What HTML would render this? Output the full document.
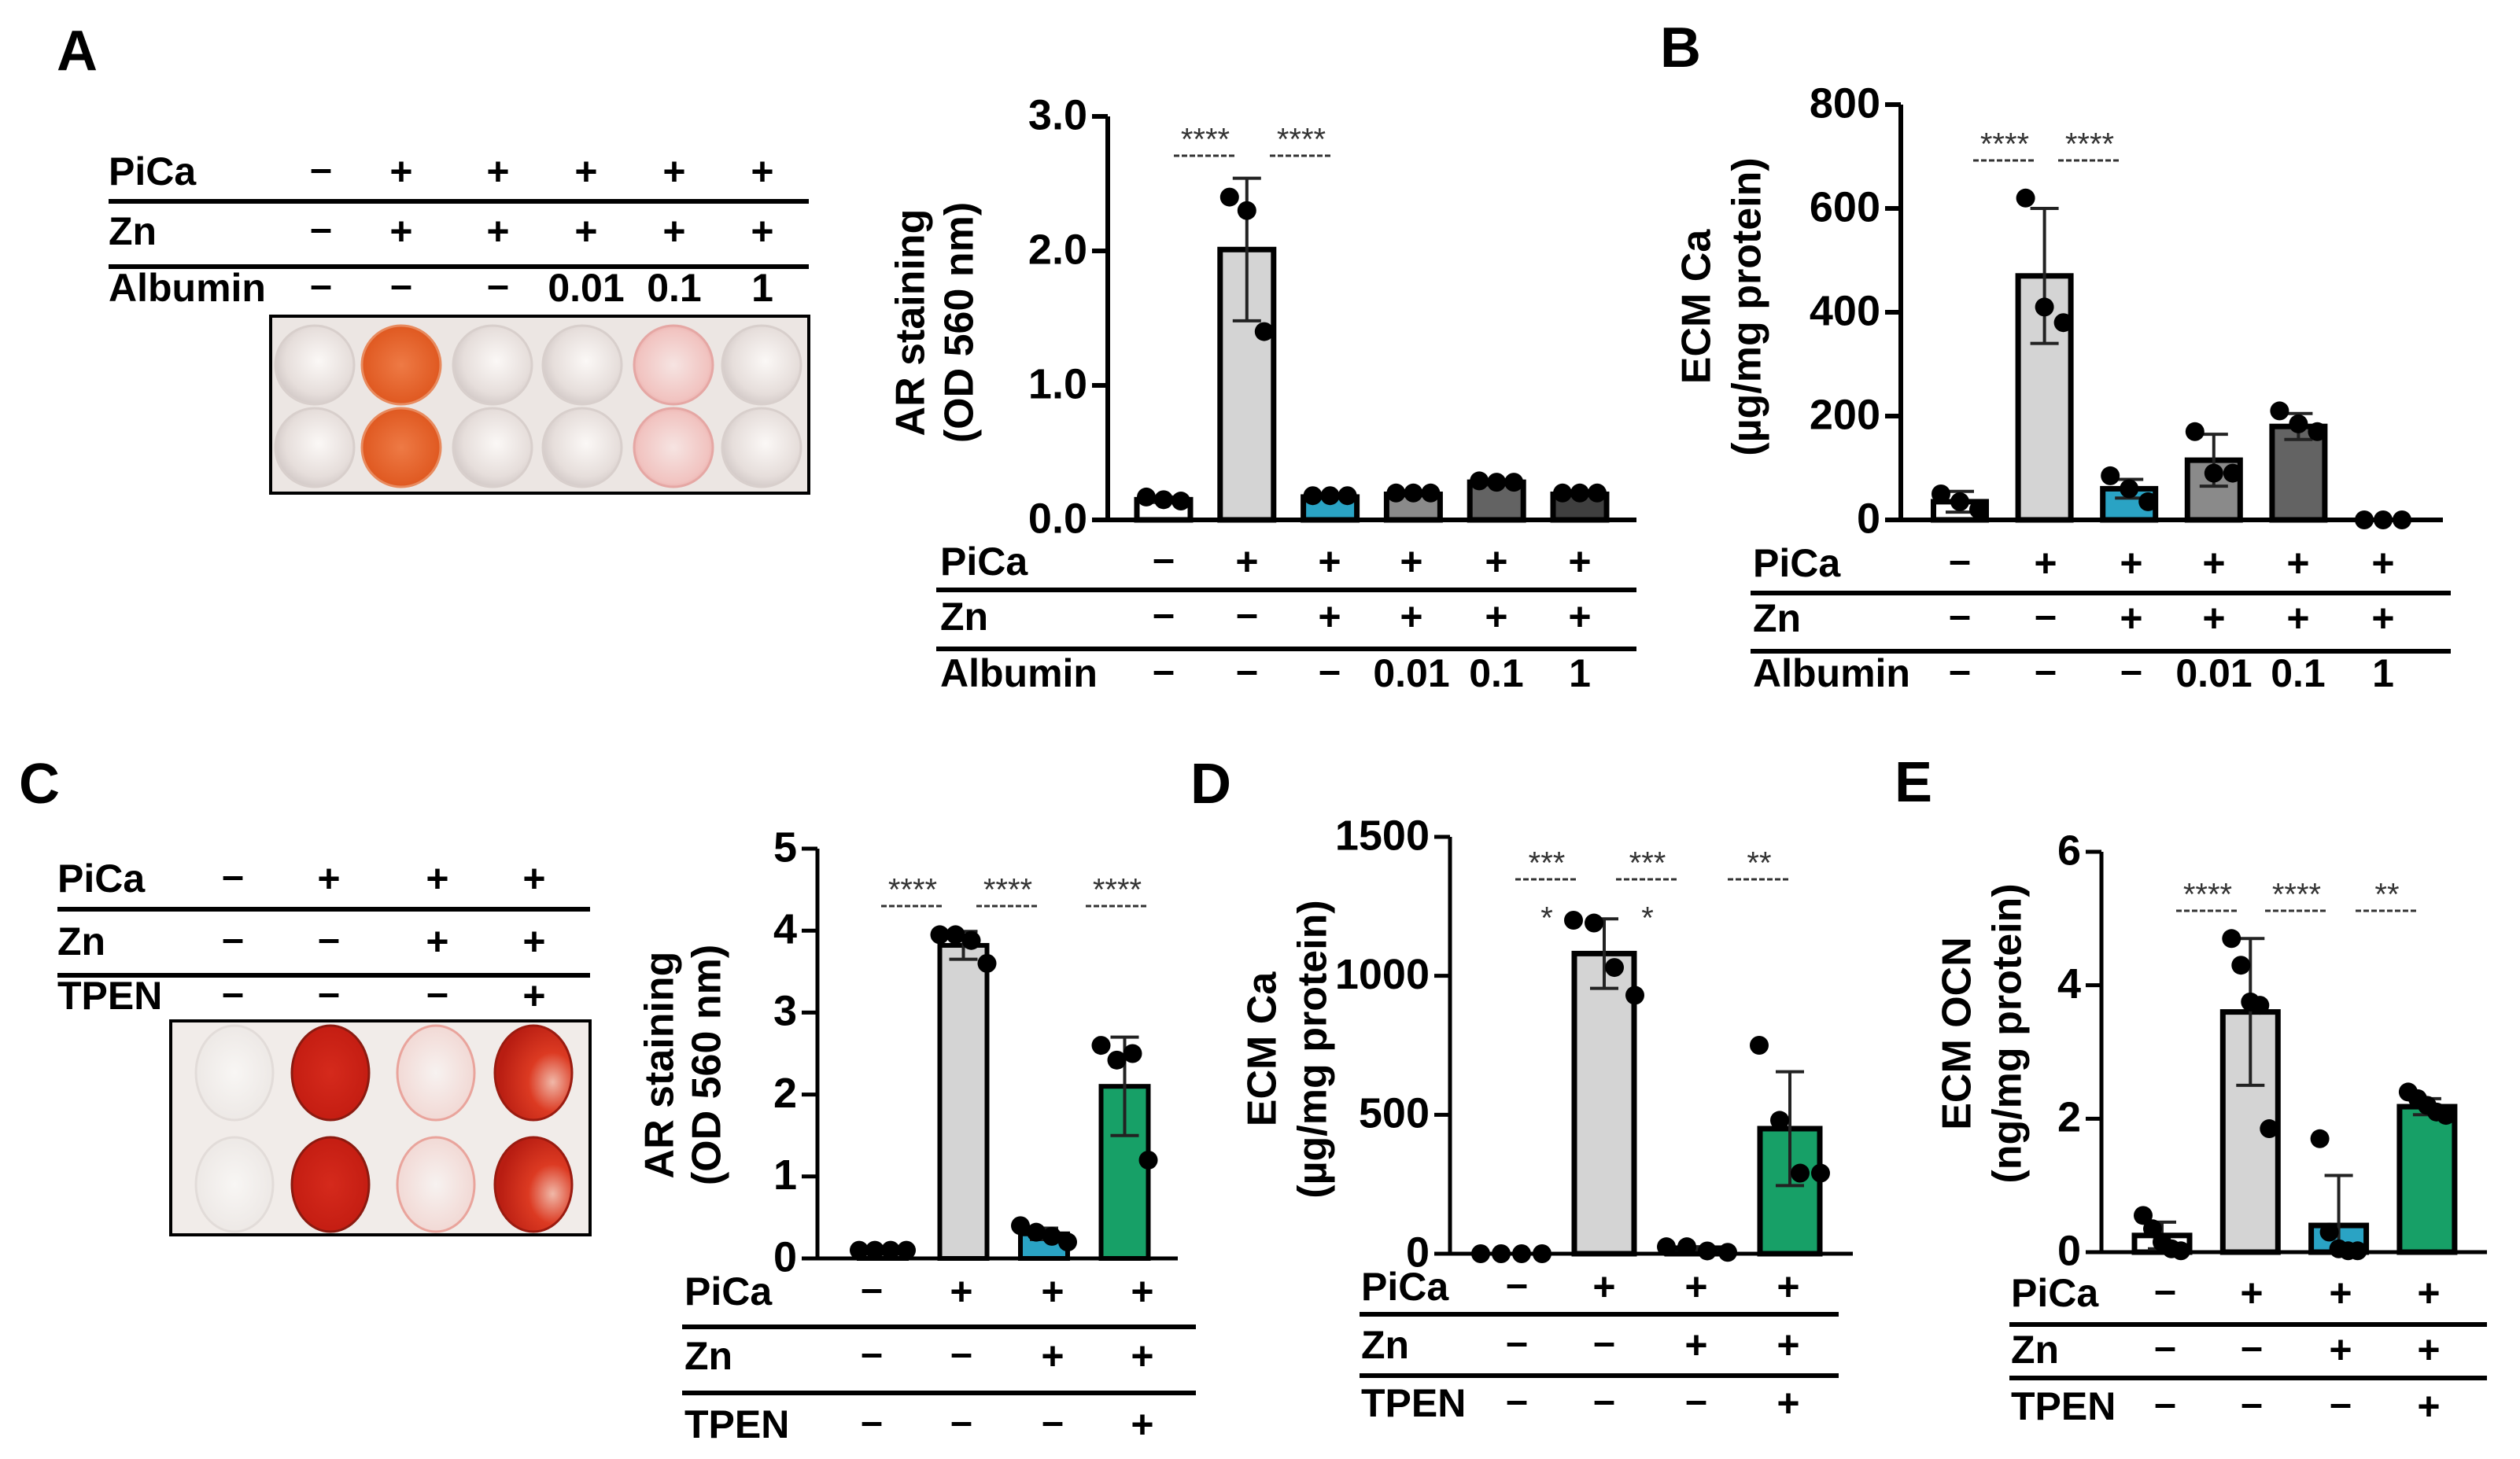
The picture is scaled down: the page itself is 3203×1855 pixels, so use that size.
<!DOCTYPE html>
<html><head><meta charset="utf-8">
<style>
html,body{margin:0;padding:0;background:#fff;}
svg{display:block;}
text{font-family:"Liberation Sans Narrow","Liberation Sans",Arial,sans-serif;}
.lbl{font-weight:bold;font-size:50px;fill:#000;}
.tick{font-weight:bold;font-size:54px;fill:#000;}
.ytitle{font-family:"Liberation Sans",Arial,sans-serif;font-size:52px;font-weight:bold;fill:#000;}
.panel{font-family:"Liberation Sans",Arial,sans-serif;font-weight:bold;font-size:72px;fill:#000;}
.sig{font-family:"Liberation Sans",Arial,sans-serif;font-size:40px;fill:#333;}
</style></head>
<body>
<svg id="fig" width="3203" height="1855" viewBox="0 0 3203 1855" xmlns="http://www.w3.org/2000/svg">
<defs>
<radialGradient id="wellPale" cx="0.55" cy="0.45" r="0.6"><stop offset="0" stop-color="#fbf8f6"/><stop offset="0.7" stop-color="#e6dedb"/><stop offset="1" stop-color="#cfc6c4"/></radialGradient>
<radialGradient id="wellOrange" cx="0.5" cy="0.5" r="0.6"><stop offset="0" stop-color="#ee7a45"/><stop offset="0.8" stop-color="#e05a22"/><stop offset="1" stop-color="#c8451a"/></radialGradient>
<radialGradient id="wellPink" cx="0.5" cy="0.5" r="0.6"><stop offset="0" stop-color="#f6e4e2"/><stop offset="0.75" stop-color="#f1c3c0"/><stop offset="1" stop-color="#e69a98"/></radialGradient>
<radialGradient id="wellRed" cx="0.5" cy="0.5" r="0.6"><stop offset="0" stop-color="#d52a1c"/><stop offset="0.85" stop-color="#c41d12"/><stop offset="1" stop-color="#9e1a10"/></radialGradient>
<radialGradient id="wellRed2" cx="0.75" cy="0.6" r="0.7"><stop offset="0" stop-color="#f0b8a8"/><stop offset="0.45" stop-color="#dc3a22"/><stop offset="1" stop-color="#b81d12"/></radialGradient>
<radialGradient id="wellFaint" cx="0.5" cy="0.5" r="0.6"><stop offset="0" stop-color="#f7f2f0"/><stop offset="0.8" stop-color="#f2dad6"/><stop offset="1" stop-color="#eaa59c"/></radialGradient>
<radialGradient id="wellWhite" cx="0.5" cy="0.5" r="0.6"><stop offset="0" stop-color="#f8f6f4"/><stop offset="1" stop-color="#ebe6e3"/></radialGradient>
</defs>
</svg>
<script>
// ---------- Panel A data ----------
var aCats = ["c1","c2","c3","c4","c5","c6"];
var aMeans = [0.15, 2.01, 0.17, 0.19, 0.28, 0.19];
var aSD = [0.02, 0.53, 0.01, 0.01, 0.02, 0.01];
var aDots = [[0.17,0.15,0.14],[2.4,2.3,1.4],[0.18,0.18,0.18],[0.2,0.2,0.2],[0.29,0.28,0.28],[0.2,0.2,0.2]];
var aTicks = [0, 1, 2, 3];
var aTickLabels = ["0.0","1.0","2.0","3.0"];
// ---------- Panel B data ----------
var bMeans = [35, 470, 60, 115, 180, 0];
var bSD = [20, 130, 18, 50, 25, 0];
var bDots = [[50,35,20],[620,410,380],[85,60,35],[170,90,90],[210,185,170],[0,0,0]];
var bTicks = [0,200,400,600,800];
var bTickLabels = ["0","200","400","600","800"];
// ---------- Panel C data ----------
var cMeans = [0.1, 3.82, 0.3, 2.1];
var cSD = [0.01, 0.17, 0.07, 0.6];
var cDots = [[0.1,0.1,0.1,0.1],[3.95,3.95,3.88,3.6],[0.4,0.32,0.27,0.2],[2.6,2.42,2.5,1.2]];
var cTicks = [0,1,2,3,4,5];
var cTickLabels = ["0","1","2","3","4","5"];
// ---------- Panel D data ----------
var dMeans = [0, 1080, 20, 450];
var dSD = [0, 125, 5, 205];
var dDots = [[0,0,0,0],[1200,1190,1030,930],[25,25,10,5],[750,480,290,290]];
var dTicks = [0,500,1000,1500];
var dTickLabels = ["0","500","1000","1500"];
// ---------- Panel E data ----------
var eMeans = [0.25, 3.6, 0.4, 2.18];
var eSD = [0.2, 1.1, 0.75, 0.12];
var eDots = [[0.55,0.35,0.15,0.05,0.02],[4.7,4.3,3.75,3.7,1.85],[1.7,0.3,0.05,0.02,0.02],[2.4,2.3,2.2,2.1,2.05]];
var eTicks = [0,2,4,6];
var eTickLabels = ["0","2","4","6"];

var NS = "http://www.w3.org/2000/svg";
var svg = document.getElementById("fig");
function mk(tag, attrs, parent){
  var e = document.createElementNS(NS, tag);
  for (var k in attrs) e.setAttribute(k, attrs[k]);
  (parent||svg).appendChild(e);
  return e;
}
function txt(s, x, y, cls, anchor, parent){
  var t = mk("text", {x:x, y:y, "class":cls, "text-anchor":anchor||"start", "dominant-baseline":"middle"}, parent);
  t.textContent = s;
  return t;
}

function drawChart(p){
  var g = mk("g", {});
  
  
  function y(v){ return p.y0 - v / p.max * (p.y0 - p.yTop); }
  for (var i=0;i<p.means.length;i++){
    var cx = p.x0 + p.step*i;
    var top = y(p.means[i]);
    var h = Math.max(p.y0 - top, 0);
    if (h > 0.5){
      var r = mk("rect", {x:cx-p.bw/2, y:top, width:p.bw, height:h, fill:p.colors[i], stroke:"#000", "stroke-width":p.bs}, g);
      
      
    }
    var sd = p.sd[i];
    if (sd > 0){
      var hi = y(p.means[i]+sd), lo = y(Math.max(p.means[i]-sd,0));
      var eg = mk("g", {stroke:"#222","stroke-width":4}, g);
      
      
      mk("line",{x1:cx,y1:hi,x2:cx,y2:lo},eg);
      mk("line",{x1:cx-18,y1:hi,x2:cx+18,y2:hi},eg);
      mk("line",{x1:cx-18,y1:lo,x2:cx+18,y2:lo},eg);
    }
    var d = p.dots[i], n = d.length;
    for (var j=0;j<n;j++){
      var off = (j-(n-1)/2) * p.spread;
      var c = mk("circle",{cx:cx+off, cy:y(d[j]), r:12, fill:"#000"}, g);
      
      
    }
  }
  var ax = mk("g",{stroke:"#000","stroke-width":p.aw}, g);
  
  
  mk("line",{x1:p.ax,y1:p.yTop,x2:p.ax,y2:p.y0+p.aw/2},ax);
  mk("line",{x1:p.ax-p.aw/2,y1:p.y0,x2:p.xEnd,y2:p.y0},ax);
  for (var k=0;k<p.ticks.length;k++){
    var ty = y(p.ticks[k]);
    mk("line",{x1:p.ax-20,y1:ty,x2:p.ax,y2:ty},ax);
    var tl = txt(p.tickLabels[k], p.ax-26, ty+2, "tick", "end", g);
    
    
  }
  var tg = mk("g",{transform:"translate("+p.tx+","+p.ty+") rotate(-90)"}, g);
  var t1 = txt(p.title1, 0, -p.tgap, "ytitle", "middle", tg);
  
  
  var t2 = txt(p.title2, 0, p.tgap, "ytitle", "middle", tg);
  
  
  for (var s=0;s<p.sig.length;s++){
    var sg = p.sig[s];
    var st = txt(sg[1], sg[0], p.sigY, "sig", "middle", g);
    
    
    if (sg[2]) mk("line",{x1:sg[0]-40,y1:p.sigY+18,x2:sg[0]+40,y2:p.sigY+18,stroke:"#333","stroke-width":3,"stroke-dasharray":"7,3"}, g);
  }
  return g;
}

function drawTable(t){
  var g = mk("g", {});
  
  
  for (var r=0;r<t.rows.length;r++){
    var row = t.rows[r];
    var lab = txt(row[0], t.lx, t.ys[r], "lbl", "start", g);
    
    
    for (var c=0;c<row[1].length;c++){
      var v = row[1][c];
      var e = txt(v, t.cols[c], t.ys[r] + (v==="–"? -4:0), "lbl", "middle", g);
      
      
    }
  }
  for (var l=0;l<t.lines.length;l++){
    mk("line",{x1:t.lx0,y1:t.lines[l],x2:t.lx1,y2:t.lines[l],stroke:"#000","stroke-width":6}, g);
  }
}

function drawPlate(pl){
  var g = mk("g", {});
  
  
  mk("rect",{x:pl.x,y:pl.y,width:pl.w,height:pl.h,fill:pl.bg,stroke:"#000","stroke-width":4}, g);
  for (var r=0;r<pl.rows.length;r++){
    for (var c=0;c<pl.cols.length;c++){
      var w = mk("ellipse",{cx:pl.cols[c],cy:pl.rows[r],rx:pl.rx,ry:pl.ry,fill:"url(#"+pl.fills[c]+")",stroke:pl.strokes[c],"stroke-width":3}, g);
      
      
    }
  }
}

function panelLetter(s,x,y){
  var t = txt(s,x,y,"panel","start");
  
  
}

var M = "–", P = "+";
panelLetter("A",72,70); panelLetter("B",2110,66); panelLetter("C",24,1002); panelLetter("D",1513,1002); panelLetter("E",2408,1000);

drawTable({name:"table-a-plate", lx:138, lx0:138, lx1:1028, cols:[408,510,633,745,857,969],
  ys:[222,298,370], lines:[256,339],
  rows:[["PiCa",[M,P,P,P,P,P]],["Zn",[M,P,P,P,P,P]],["Albumin",[M,M,M,"0.01","0.1","1"]]]});
drawPlate({name:"plate-a", x:344,y:402,w:684,h:225,bg:"#ece6e3", rows:[464,569], cols:[400,510,626,740,856,968], rx:50, ry:50,
  fills:["wellPale","wellOrange","wellPale","wellPale","wellPink","wellPale"],
  strokes:["#d8cfcc","#e88a5e","#d8cfcc","#d8cfcc","#e5a7a4","#d8cfcc"]});

drawChart({name:"chart-a-ar-staining", means:aMeans, sd:aSD, dots:aDots, ticks:aTicks, tickLabels:aTickLabels,
  max:3, y0:661, yTop:148, ax:1408, xEnd:2080, x0:1479, step:105.8, bw:68, bs:7, aw:6, spread:22,
  colors:["#ffffff","#d4d4d4","#2aa3c4","#8a8a8a","#636363","#3f3f3f"],
  tx:1192, ty:410, tgap:31, title1:"AR staining", title2:"(OD 560 nm)",
  sigY:180, sig:[[1532,"****",1],[1654,"****",1]]});
drawTable({name:"table-a-chart", lx:1195, lx0:1190, lx1:2080, cols:[1479,1585,1690,1794,1902,2008],
  ys:[718,788,860], lines:[750,825],
  rows:[["PiCa",[M,P,P,P,P,P]],["Zn",[M,M,P,P,P,P]],["Albumin",[M,M,M,"0.01","0.1","1"]]]});

drawChart({name:"chart-b-ecm-ca", means:bMeans, sd:bSD, dots:bDots, ticks:bTicks, tickLabels:bTickLabels,
  max:800, y0:661, yTop:133, ax:2416, xEnd:3105, x0:2491, step:107.6, bw:67, bs:7, aw:6, spread:24,
  colors:["#ffffff","#d4d4d4","#2aa3c4","#8a8a8a","#636363","#3f3f3f"],
  tx:2192, ty:390, tgap:32, title1:"ECM Ca", title2:"(µg/mg protein)",
  sigY:186, sig:[[2548,"****",1],[2656,"****",1]]});
drawTable({name:"table-b", lx:2228, lx0:2225, lx1:3115, cols:[2491,2600,2709,2814,2921,3029],
  ys:[720,790,860], lines:[754,828],
  rows:[["PiCa",[M,P,P,P,P,P]],["Zn",[M,M,P,P,P,P]],["Albumin",[M,M,M,"0.01","0.1","1"]]]});

drawTable({name:"table-c-plate", lx:73, lx0:73, lx1:750, cols:[296,418,556,679],
  ys:[1121,1201,1270], lines:[1156,1240],
  rows:[["PiCa",[M,P,P,P]],["Zn",[M,M,P,P]],["TPEN",[M,M,M,P]]]});
drawPlate({name:"plate-c", x:217,y:1298,w:533,h:272,bg:"#f1ece9", rows:[1364,1506], cols:[298,420,554,678], rx:49, ry:60,
  fills:["wellWhite","wellRed","wellFaint","wellRed2"],
  strokes:["#e2dcd9","#8c1a10","#e9a49c","#9a1b10"]});

drawChart({name:"chart-c-ar-staining", means:cMeans, sd:cSD, dots:cDots, ticks:cTicks, tickLabels:cTickLabels,
  max:5, y0:1600, yTop:1079, ax:1039, xEnd:1497, x0:1122, step:102.5, bw:60, bs:6, aw:5, spread:20,
  colors:["#ffffff","#d4d4d4","#2aa3c4","#17a067"],
  tx:872, ty:1354, tgap:30, title1:"AR staining", title2:"(OD 560 nm)",
  sigY:1134, sig:[[1160,"****",1],[1281,"****",1],[1420,"****",1]]});
drawTable({name:"table-c-chart", lx:870, lx0:867, lx1:1520, cols:[1108,1222,1338,1452],
  ys:[1646,1728,1815], lines:[1687,1771],
  rows:[["PiCa",[M,P,P,P]],["Zn",[M,M,P,P]],["TPEN",[M,M,M,P]]]});

drawChart({name:"chart-d-ecm-ca", means:dMeans, sd:dSD, dots:dDots, ticks:dTicks, tickLabels:dTickLabels,
  max:1500, y0:1594, yTop:1064, ax:1843, xEnd:2355, x0:1921, step:118, bw:76, bs:7, aw:5, spread:26,
  colors:["#ffffff","#d4d4d4","#2aa3c4","#17a067"],
  tx:1640, ty:1334, tgap:32, title1:"ECM Ca", title2:"(µg/mg protein)",
  sigY:1100, sig:[[1966,"***",1],[2094,"***",1],[2236,"**",1]]});
var s1 = txt("*",1966,1170,"sig","middle");


var s2 = txt("*",2094,1170,"sig","middle");


drawTable({name:"table-d", lx:1730, lx0:1728, lx1:2337, cols:[1928,2039,2156,2273],
  ys:[1640,1714,1788], lines:[1671,1749],
  rows:[["PiCa",[M,P,P,P]],["Zn",[M,M,P,P]],["TPEN",[M,M,M,P]]]});

drawChart({name:"chart-e-ecm-ocn", means:eMeans, sd:eSD, dots:eDots, ticks:eTicks, tickLabels:eTickLabels,
  max:6, y0:1592, yTop:1083, ax:2671, xEnd:3161, x0:2748, step:112.3, bw:70, bs:7, aw:5, spread:12,
  colors:["#ffffff","#d4d4d4","#2aa3c4","#17a067"],
  tx:2523, ty:1314, tgap:32, title1:"ECM OCN", title2:"(ng/mg protein)",
  sigY:1140, sig:[[2806,"****",1],[2919,"****",1],[3034,"**",1]]});
drawTable({name:"table-e", lx:2556, lx0:2554, lx1:3161, cols:[2752,2862,2975,3087],
  ys:[1648,1720,1792], lines:[1684,1752],
  rows:[["PiCa",[M,P,P,P]],["Zn",[M,M,P,P]],["TPEN",[M,M,M,P]]]});
</script>
</body></html>
